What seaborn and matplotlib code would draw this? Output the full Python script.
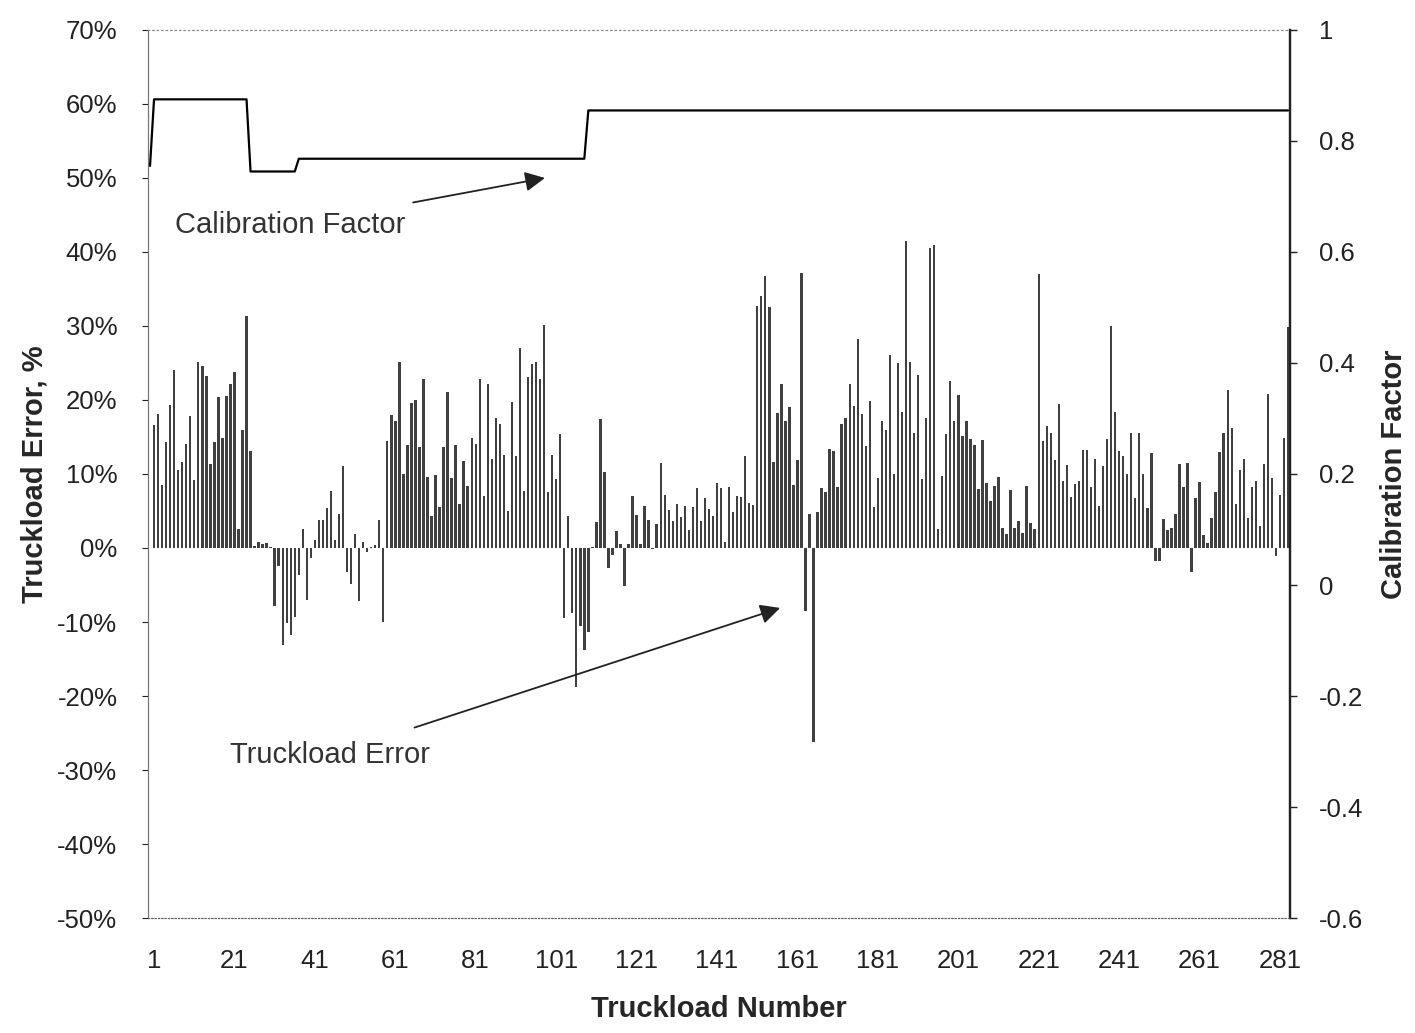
import numpy as np
import pandas as pd
import seaborn as sns
import matplotlib.pyplot as plt
from matplotlib.ticker import FuncFormatter

# Truckload error (%), one value per truckload, left to right
err_a = [16.6, 18.1, 8.5, 14.3, 19.3, 24.1, 10.5, 11.6, 14.1, 17.8, 9.2, 25.2, 24.6, 23.2, 11.4,
         14.3, 20.4, 14.8, 20.5, 22.2, 23.8, 2.6, 16.0, 31.3, 13.1]
err_b = [0.3, 0.8, 0.6, 0.7, 0.1, -7.9, -2.5, -13.1, -10.2, -11.8, -9.3, -3.6, 2.5, -7.0, -1.4,
         1.1, 3.8, 3.8, 5.4, 7.7, 1.1, 4.6, 11.1, -3.2, -4.8]
err_c = [1.9, -7.1, 0.8, -0.5, 0.1, 0.4, 3.8, -10.0, 14.4, 18.0, 17.2, 25.2, 10.0, 13.9, 19.6,
         20.0, 13.6, 22.9, 9.6, 4.3, 9.8, 5.5, 13.7, 21.1, 9.4, 13.9]
err_d = [5.9, 11.8, 8.4, 14.8, 14.1, 22.9, 7.0, 22.2, 12.0, 17.5, 16.7, 12.5, 5.0, 19.7, 12.4,
         27.0, 7.7, 23.1, 24.8, 25.1, 22.9, 30.2, 7.5, 12.5, 9.3, 15.4]
err_e = [-9.5, 4.3, -8.8, -18.8, -10.6, -13.8, -11.3, 0.2, 3.5, 17.4, 10.3, -2.7, -0.9, 2.3, 0.5,
         -5.2, 0.5, 7.0, 4.4, 0.5, 5.7, 3.8, -0.2, 3.2, 11.5, 7.2]
err_f = [5.2, 3.6, 5.9, 4.2, 5.7, 2.4, 5.5, 8.1, 3.6, 6.8, 5.3, 4.3, 8.8, 8.1, 0.8,
         8.2, 4.8, 7.0, 6.9, 12.4, 6.1, 5.8, 32.7, 34.0, 36.7, 32.5]
err_g = [11.6, 18.2, 22.1, 17.1, 19.1, 8.5, 11.9, 37.1, -8.5, 4.6, -26.2, 4.9, 8.1, 7.6, 13.4,
         13.1, 8.3, 16.8, 17.5, 22.1, 19.2, 28.3, 18.1, 13.8, 19.9, 5.5, 9.4]
err_h = [17.2, 16.0, 26.1, 10.0, 25.0, 18.4, 41.5, 25.1, 15.6, 23.4, 9.3, 17.5, 40.5, 41.0, 2.5,
         9.7, 15.4, 22.5, 17.2, 20.7, 15.2, 17.1, 14.7, 13.9, 8.0, 14.6]
err_i = [8.8, 6.3, 8.4, 9.6, 2.7, 1.9, 7.8, 2.7, 3.6, 2.0, 8.4, 3.4, 2.5, 37.0, 14.4,
         16.5, 15.6, 11.9, 19.5, 9.1, 11.2, 6.9, 8.7, 9.1, 13.2, 13.2]
err_j = [8.2, 12.0, 5.7, 11.1, 14.7, 30.0, 18.4, 13.1, 12.4, 10.0, 15.6, 6.7, 15.6, 10.0, 5.4,
         12.9, -1.7, -1.7, 3.9, 2.4, 2.7, 4.6, 11.3, 8.2, 11.5, -3.3]
err_k = [6.7, 8.9, 1.7, 0.7, 4.1, 7.6, 13.0, 15.6, 21.4, 16.2, 6.0, 10.5, 12.0, 4.1, 8.2,
         9.1, 3.0, 11.3, 20.8, 9.4, -1.1, 7.2, 14.8, 29.9]

errors = err_a + err_b + err_c + err_d + err_e + err_f + err_g + err_h + err_i + err_j + err_k
truckloads = list(range(1, len(errors) + 1))

# Calibration factor: step line, corner points
cal_x = [0, 1, 24, 25, 36, 37, 108, 109, 283]
cal_y = [0.755, 0.875, 0.875, 0.745, 0.745, 0.768, 0.768, 0.855, 0.855]

x_ticks = [1, 21, 41, 61, 81, 101, 121, 141, 161, 181, 201, 221, 241, 261, 281]

df = pd.DataFrame({"Truckload": truckloads, "Error": errors})

sns.set_style("white")
plt.rcParams["font.family"] = ["Liberation Sans", "DejaVu Sans"]

fig = plt.figure(figsize=(14.15, 10.33), dpi=100)
ax = fig.add_axes([0.1046, 0.1113, 0.8071, 0.8597])

sns.barplot(data=df, x="Truckload", y="Error", native_scale=True, width=0.6,
            color="#404040", edgecolor="none", errorbar=None, ax=ax)
ax.set_xlim(-0.5, 283.5)
ax.set_ylim(-50, 70)
ax.set_yticks(range(-50, 71, 10))
ax.yaxis.set_major_formatter(FuncFormatter(lambda v, p: f"{v:.0f}%"))
ax.set_xticks(x_ticks)
ax.set_xticklabels([str(t) for t in x_ticks])
ax.tick_params(axis="both", labelsize=18.5, colors="#222222")
ax.tick_params(axis="y", direction="out", length=4, width=0.8, pad=18)
ax.tick_params(axis="x", length=0, pad=22)
ax.set_xlabel("Truckload Number", fontsize=21, fontweight="bold", labelpad=16)
ax.set_ylabel("Truckload Error, %", fontsize=21, fontweight="bold", labelpad=6)

ax2 = ax.twinx()
sns.lineplot(x=cal_x, y=cal_y, ax=ax2, color="black", linewidth=1.6)
ax2.set_ylim(-0.6, 1.0)
ax2.set_yticks([-0.6, -0.4, -0.2, 0, 0.2, 0.4, 0.6, 0.8, 1.0])
ax2.yaxis.set_major_formatter(FuncFormatter(lambda v, p: f"{v:g}" if abs(v) > 1e-9 else "0"))
ax2.tick_params(axis="y", labelsize=18.5, colors="#222222", direction="out", length=5, width=1, pad=16)
ax2.set_ylabel("Calibration Factor", fontsize=21, fontweight="bold", labelpad=12)

for a in (ax, ax2):
    a.spines["top"].set_linestyle((0, (1, 3)))
    a.spines["top"].set_color("#888888")
    a.spines["bottom"].set_linestyle((0, (1, 2)))
    a.spines["bottom"].set_color("#666666")
    a.spines["left"].set_color("#777777")
    a.spines["right"].set_color("#222222")
    a.spines["right"].set_linewidth(1.6)

ax.annotate("Calibration Factor", xy=(98.2, 50.0), xytext=(6.2, 43.6),
            fontsize=21, color="#333333", va="center", ha="left",
            arrowprops=dict(arrowstyle="-|>", color="#222222", lw=1.3, mutation_scale=30,
                            shrinkA=22, shrinkB=0))
ax.annotate("Truckload Error", xy=(156.7, -8.1), xytext=(19.9, -28.0),
            fontsize=21, color="#333333", va="center", ha="left",
            arrowprops=dict(arrowstyle="-|>", color="#222222", lw=1.3, mutation_scale=30,
                            shrinkA=24, shrinkB=0))

fig.savefig("out.png", dpi=100)
